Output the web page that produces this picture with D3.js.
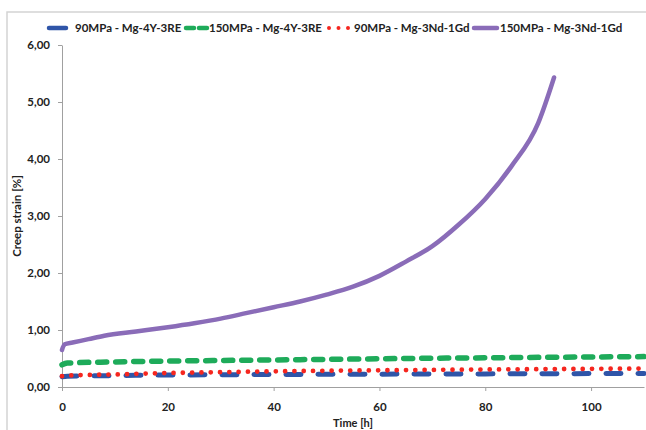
<!DOCTYPE html>
<html>

<head>
  <meta charset="utf-8">
  <title>Creep strain</title>
  <script src="https://d3js.org/d3.v7.min.js"></script>
  <style>
    body { margin: 0; background: #fff; }
    text { font-family: Lato, "Open Sans", sans-serif; font-weight: bold; fill: #222; }
  </style>
</head>

<body>
  <script>
    // data
    var seriesNames = ["90MPa - Mg-4Y-3RE", "150MPa - Mg-4Y-3RE", "90MPa - Mg-3Nd-1Gd", "150MPa - Mg-3Nd-1Gd"];

    var timeLow = [0, 1, 10, 20, 30, 40, 50, 60, 70, 80, 90, 100, 110];
    var strainBlue = [0.18, 0.19, 0.20, 0.21, 0.215, 0.22, 0.222, 0.225, 0.228, 0.23, 0.233, 0.235, 0.238];
    var strainGreen = [0.39, 0.42, 0.44, 0.455, 0.465, 0.475, 0.485, 0.495, 0.505, 0.512, 0.52, 0.527, 0.533];
    var strainRed = [0.19, 0.20, 0.22, 0.245, 0.26, 0.275, 0.285, 0.293, 0.30, 0.307, 0.313, 0.318, 0.323];

    var timePurple = [0, 0.5, 2, 5, 8, 14, 20, 25, 30, 35, 40, 45, 50, 55, 60, 65, 70, 75, 80, 85, 90, 93];
    var strainPurple = [0.65, 0.75, 0.78, 0.84, 0.9, 0.975, 1.05, 1.12, 1.2, 1.3, 1.4, 1.5, 1.62, 1.76, 1.95, 2.2, 2.47, 2.85, 3.3, 3.88, 4.63, 5.43];

    var xTicks = [0, 20, 40, 60, 80, 100];
    var yTicks = [0, 1, 2, 3, 4, 5, 6];

    var width = 646;
    var height = 430;
    var margin = { "top": 45, "bottom": 43, "right": 2, "left": 62 };

    var svg = d3.select("body").append("svg").attr("width", width).attr("height", height);

    // outer chart frame
    svg.append("rect")
      .attr("x", 7).attr("y", 12)
      .attr("width", 660).attr("height", 440)
      .attr("fill", "none").attr("stroke", "#d4d4d4").attr("stroke-width", 1.5);

    var xScale = d3.scaleLinear().domain([0, 110]).range([margin.left, width - margin.right]);
    var yScale = d3.scaleLinear().domain([0, 6]).range([height - margin.bottom, margin.top]);

    var comma = d3.formatLocale({ decimal: ",", thousands: ".", grouping: [3], currency: ["", ""] });

    var xAxis = svg.append("g")
      .attr("transform", "translate(0," + yScale(0) + ")")
      .call(d3.axisBottom(xScale).tickValues(xTicks).tickSize(4).tickPadding(12).tickSizeOuter(0));
    var yAxis = svg.append("g")
      .attr("transform", "translate(" + margin.left + ",0)")
      .call(d3.axisLeft(yScale).tickValues(yTicks).tickSize(4).tickPadding(8).tickFormat(comma.format(".2f")).tickSizeOuter(0));

    [xAxis, yAxis].forEach(function (ax) {
      ax.select(".domain").attr("stroke", "#a0a0a0");
      ax.selectAll(".tick line").attr("stroke", "#a0a0a0");
      ax.selectAll("text").attr("font-size", 11.5).attr("font-family", null);
    });

    svg.append("text")
      .attr("transform", "translate(21," + yScale(3) + ") rotate(-90)")
      .attr("text-anchor", "middle")
      .attr("font-size", 11.5)
      .text("Creep strain [%]");

    svg.append("text")
      .attr("x", xScale(55)).attr("y", 427)
      .attr("text-anchor", "middle")
      .attr("font-size", 11)
      .text("Time [h]");

    var styles = [
      { color: "#2f55a8", width: 5, dash: "15 17", cap: "round" },
      { color: "#1eab5a", width: 5.5, dash: "9 9", cap: "round" },
      { color: "#f5261f", width: 4.8, dash: "0 9.3", cap: "round" },
      { color: "#8a6cb8", width: 4.5, dash: null, cap: "round" }
    ];

    var series = [
      { x: timeLow, y: strainBlue },
      { x: timeLow, y: strainGreen },
      { x: timeLow, y: strainRed },
      { x: timePurple, y: strainPurple }
    ];

    var line = d3.line()
      .x(function (d) { return xScale(d[0]); })
      .y(function (d) { return yScale(d[1]); })
      .curve(d3.curveMonotoneX);

    series.forEach(function (s, i) {
      var pts = s.x.map(function (t, j) { return [t, s.y[j]]; });
      svg.append("path")
        .attr("d", line(pts))
        .attr("fill", "none")
        .attr("stroke", styles[i].color)
        .attr("stroke-width", styles[i].width)
        .attr("stroke-linecap", styles[i].cap)
        .attr("stroke-dasharray", styles[i].dash);
    });

    // legend
    var legendX = [[49, 66], [186, 207], [329, 350], [474, 497]];
    var legendTextX = [75, 209, 354, 500];
    var legend = svg.append("g");
    seriesNames.forEach(function (name, i) {
      var dash = i == 1 ? "8 5" : (i == 2 ? "0 9.5" : null);
      legend.append("line")
        .attr("x1", legendX[i][0]).attr("x2", legendX[i][1])
        .attr("y1", 28).attr("y2", 28)
        .attr("stroke", styles[i].color)
        .attr("stroke-width", i == 2 ? 4 : 4.5)
        .attr("stroke-linecap", "round")
        .attr("stroke-dasharray", dash);
      legend.append("text")
        .attr("x", legendTextX[i]).attr("y", 32)
        .attr("font-size", 11.5)
        .text(name);
    });
  </script>
</body>

</html>
